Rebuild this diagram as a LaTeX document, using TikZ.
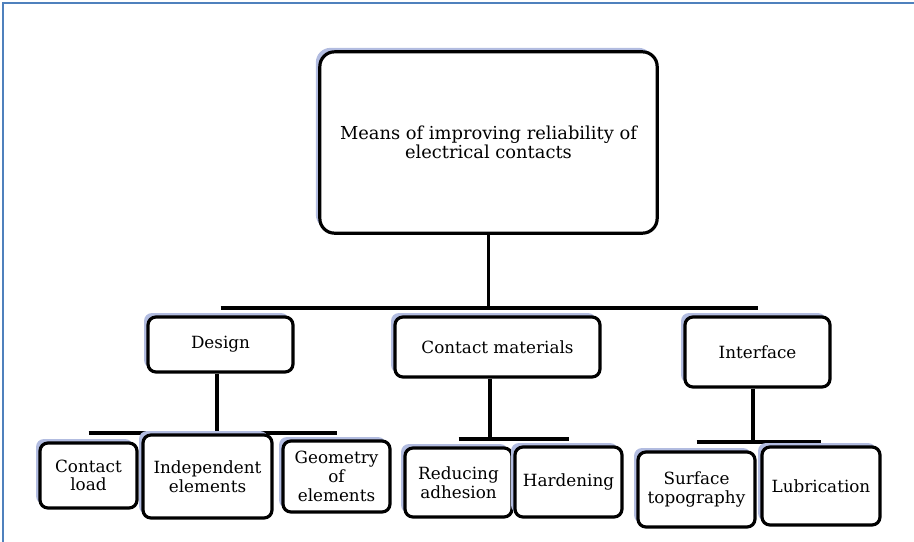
\documentclass[tikz,border=0pt]{standalone}
\usepackage{fontspec}
\setmainfont{DejaVu Serif}
\usetikzlibrary{shadows,backgrounds}

\definecolor{framecol}{RGB}{79,129,189}
\definecolor{shadecol}{RGB}{178,188,224}

\begin{document}
\begin{tikzpicture}[x=0.75pt,y=0.75pt,yscale=-1,xscale=1,
  box/.style={draw=black,line width=2.4pt,rounded corners=6pt,fill=white,align=center,inner sep=1pt,
    font=\fontsize{12.6}{14}\selectfont,
    general shadow={fill=shadecol,shadow xshift=-3pt,shadow yshift=3pt}},
  link/.style={draw=black,line width=2.4pt}]
\useasboundingbox (0,0) rectangle (914,542);

%Shape: Frame
\draw [color=framecol,line width=1.5pt] (3,542) -- (3,3) -- (914,3);

%Top box
\node [box,rounded corners=11pt,minimum width=253pt,minimum height=136pt,font=\fontsize{13.4}{14.5}\selectfont] (means) at (488.5,142.5) {Means of improving reliability of\\electrical contacts};

%Second row
\node [box,minimum width=108.75pt,minimum height=41.25pt] (design) at (220.5,344.5) {Design};
\node [box,minimum width=153.75pt,minimum height=45pt] (materials) at (497.5,347) {Contact materials};
\node [box,minimum width=108.75pt,minimum height=52.5pt] (interface) at (757.5,352) {Interface};

%Third row
\node [box,minimum width=72.75pt,minimum height=48.75pt] (load) at (88.5,475.5) {Contact\\load};
\node [box,minimum width=96.75pt,minimum height=62.25pt] (independent) at (207.5,476.5) {Independent\\elements};
\node [box,minimum width=80.25pt,minimum height=53.25pt] (geometry) at (336.5,476.5) {Geometry\\of\\elements};
\node [box,minimum width=80.25pt,minimum height=51.75pt] (adhesion) at (458.5,482.5) {Reducing\\adhesion};
\node [box,minimum width=80.25pt,minimum height=52.5pt] (hardening) at (568.5,482) {Hardening};
\node [box,minimum width=87.75pt,minimum height=56.25pt] (surface) at (696.5,489.5) {Surface\\topography};
\node [box,minimum width=88.5pt,minimum height=58.5pt] (lubrication) at (821,486) {Lubrication};

%Connectors
\begin{pgfonlayer}{background}
\coordinate (busMeans) at (488.5,308);
\coordinate (busDesign) at (217,433);
\coordinate (busMaterials) at (490,439);
\coordinate (busInterface) at (753,442);
\draw [link] (means) -- (busMeans);
\draw [link] (busMeans -| design) -- (busMeans -| interface);
\draw [link] (design.south -| busDesign) -- (busDesign);
\draw [link] (busDesign -| load) -- (busDesign -| geometry);
\draw [link] (materials.south -| busMaterials) -- (busMaterials);
\draw [link] (busMaterials -| adhesion) -- (busMaterials -| hardening);
\draw [link] (interface.south -| busInterface) -- (busInterface);
\draw [link] (busInterface -| surface) -- (busInterface -| lubrication);
\end{pgfonlayer}

\end{tikzpicture}
\end{document}
